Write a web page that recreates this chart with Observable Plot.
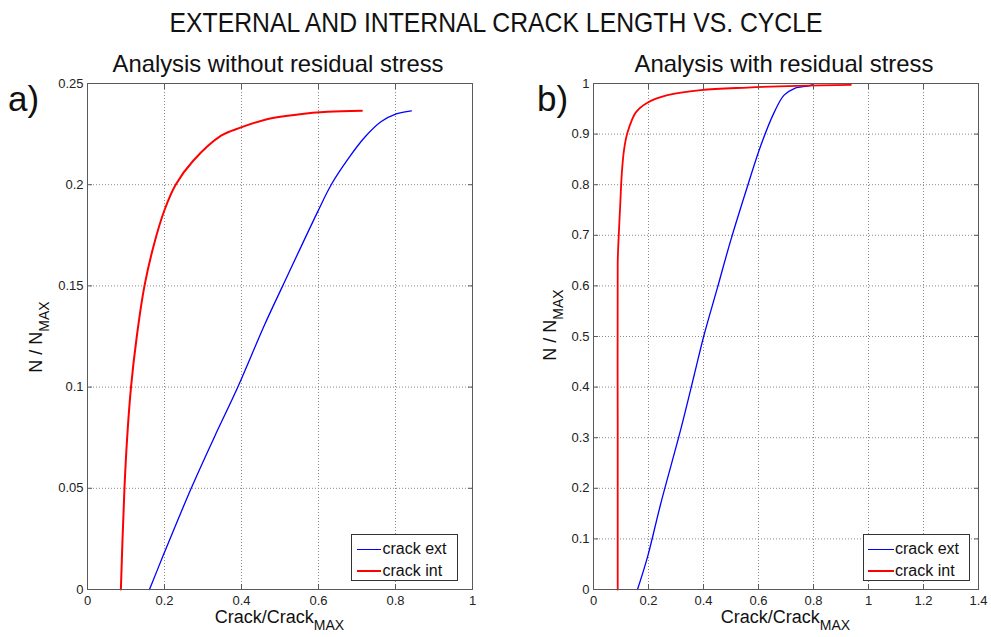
<!DOCTYPE html>
<html><head><meta charset="utf-8">
<script src="https://cdn.jsdelivr.net/npm/d3@7"></script>
<script src="https://cdn.jsdelivr.net/npm/@observablehq/plot@0.6"></script>
<style>
body{margin:0;background:#fff;}
#wrap{position:relative;width:991px;height:637px;overflow:hidden;background:#fff;font-family:"Liberation Sans",Arial,sans-serif;}
.panel{position:absolute;top:0;}
#overlay{position:absolute;left:0;top:0;pointer-events:none;}
.legend{position:absolute;box-sizing:border-box;border:1px solid #333;background:#fff;height:47px;}
.ln{position:absolute;height:1.5px;}
.lt{position:absolute;font-size:16px;line-height:16px;color:#111;white-space:nowrap;}
</style></head>
<body><div id="wrap"></div>
<script>
// ---- data ----
const title = "EXTERNAL AND INTERNAL CRACK LENGTH VS. CYCLE";
const subtitles = ["Analysis without residual stress", "Analysis with residual stress"];
const panelTags = ["a)", "b)"];
const seriesNames = ["crack ext", "crack int"];

// Panel a: without residual stress
const aExtCrack = [0.161, 0.196, 0.2694, 0.33, 0.3905, 0.46, 0.507, 0.598, 0.633, 0.676, 0.7195, 0.763, 0.802, 0.841];
const aExtN     = [0, 0.0165, 0.05, 0.0755, 0.1, 0.1308, 0.15, 0.1867, 0.2, 0.2125, 0.2233, 0.2312, 0.235, 0.2365];
const aIntCrack = [0.0867, 0.091, 0.096, 0.103, 0.113, 0.128, 0.148, 0.172, 0.2, 0.229, 0.274, 0.347, 0.399, 0.4686, 0.5465, 0.624, 0.7127];
const aIntN     = [0, 0.025, 0.05, 0.075, 0.1, 0.125, 0.15, 0.17, 0.1875, 0.2, 0.2117, 0.2242, 0.2283, 0.2325, 0.2347, 0.236, 0.2365];

// Panel b: with residual stress
const bExtCrack = [0.16, 0.196, 0.2447, 0.3175, 0.366, 0.402, 0.451, 0.499, 0.56, 0.608, 0.657, 0.693, 0.73, 0.778, 0.8];
const bExtN     = [0, 0.0634, 0.17, 0.3168, 0.4234, 0.503, 0.597, 0.69, 0.797, 0.877, 0.943, 0.977, 0.99, 0.995, 0.998];
const bIntCrack = [0.088, 0.088, 0.088, 0.0909, 0.0969, 0.103, 0.1113, 0.1236, 0.154, 0.196, 0.269, 0.39, 0.56, 0.742, 0.936];
const bIntN     = [0, 0.323, 0.643, 0.69, 0.757, 0.823, 0.87, 0.903, 0.943, 0.962, 0.977, 0.987, 0.992, 0.9954, 0.9974];

// ticks
const aXTicks = [0, 0.2, 0.4, 0.6, 0.8, 1];
const aXLabels = ["0", "0.2", "0.4", "0.6", "0.8", "1"];
const aYTicks = [0, 0.05, 0.1, 0.15, 0.2, 0.25];
const aYLabels = ["0", "0.05", "0.1", "0.15", "0.2", "0.25"];
const bXTicks = [0, 0.2, 0.4, 0.6, 0.8, 1, 1.2, 1.4];
const bXLabels = ["0", "0.2", "0.4", "0.6", "0.8", "1", "1.2", "1.4"];
const bYTicks = [0, 0.1, 0.2, 0.3, 0.4, 0.5, 0.6, 0.7, 0.8, 0.9, 1];
const bYLabels = ["0", "0.1", "0.2", "0.3", "0.4", "0.5", "0.6", "0.7", "0.8", "0.9", "1"];

const extColor = "#0000ff", intColor = "#ff0000";
const zipPts = (xs, ys) => xs.map((x, i) => ({crack: x, n: ys[i]}));

function panel(o) {
  const xMap = new Map(o.xTicks.map((t, i) => [t, o.xLabels[i]]));
  const yMap = new Map(o.yTicks.map((t, i) => [t, o.yLabels[i]]));
  const gridStyle = {stroke: "#8a8a8a", strokeOpacity: 1, strokeDasharray: "1,2", strokeWidth: 1};
  const axStroke = "#5a5a5a";
  return Plot.plot({
    width: o.width, height: 610,
    marginLeft: o.ml, marginRight: o.mr, marginTop: 83, marginBottom: 21,
    x: {domain: o.xDomain},
    y: {domain: o.yDomain},
    style: {fontFamily: "'Liberation Sans', Arial, sans-serif", fontSize: "13px", color: "#222", background: "transparent", overflow: "visible"},
    marks: [
      Plot.gridX(o.xTicks, gridStyle),
      Plot.gridY(o.yTicks, gridStyle),
      Plot.line(zipPts(o.extX, o.extY), {x: "crack", y: "n", stroke: extColor, strokeWidth: 1.3, curve: "catmull-rom"}),
      Plot.line(zipPts(o.intX, o.intY), {x: "crack", y: "n", stroke: intColor, strokeWidth: o.intWidth, curve: "catmull-rom"}),
      Plot.frame({stroke: axStroke}),
      Plot.axisX(o.xTicks, {anchor: "bottom", tickSize: -5, tickFormat: () => "", label: null, stroke: axStroke}),
      Plot.axisX(o.xTicks, {anchor: "top", tickSize: -5, tickFormat: () => "", label: null, stroke: axStroke}),
      Plot.axisY(o.yTicks, {anchor: "left", tickSize: -5, tickFormat: () => "", label: null, stroke: axStroke}),
      Plot.axisY(o.yTicks, {anchor: "right", tickSize: -5, tickFormat: () => "", label: null, stroke: axStroke}),
      Plot.axisX(o.xTicks, {anchor: "bottom", tickSize: 0, tickPadding: 6, tickFormat: d => xMap.get(d), label: null, fill: "#222", fontSize: 13}),
      Plot.axisY(o.yTicks, {anchor: "left", tickSize: 0, tickPadding: 4, tickFormat: d => yMap.get(d), label: null, fill: "#222", fontSize: 13})
    ]
  });
}

const wrap = document.getElementById("wrap");

const pa = panel({width: 491, ml: 87, mr: 19, xDomain: [0, 1], yDomain: [0, 0.25],
  xTicks: aXTicks, xLabels: aXLabels, yTicks: aYTicks, yLabels: aYLabels,
  extX: aExtCrack, extY: aExtN, intX: aIntCrack, intY: aIntN, intWidth: 2});
const da = document.createElement("div"); da.className = "panel"; da.style.left = "0px"; da.appendChild(pa); wrap.appendChild(da);

const pb = panel({width: 491, ml: 93, mr: 13, xDomain: [0, 1.4], yDomain: [0, 1],
  xTicks: bXTicks, xLabels: bXLabels, yTicks: bYTicks, yLabels: bYLabels,
  extX: bExtCrack, extY: bExtN, intX: bIntCrack, intY: bIntN, intWidth: 1.8});
const db = document.createElement("div"); db.className = "panel"; db.style.left = "500px"; db.appendChild(pb); wrap.appendChild(db);

// ---- text overlay ----
const ns = "http://www.w3.org/2000/svg";
const ov = document.createElementNS(ns, "svg");
ov.setAttribute("id", "overlay"); ov.setAttribute("width", 991); ov.setAttribute("height", 637);
ov.setAttribute("font-family", "'Liberation Sans', Arial, sans-serif");
ov.setAttribute("fill", "#111");
function txt(str, attrs) {
  const t = document.createElementNS(ns, "text");
  for (const k in attrs) t.setAttribute(k, attrs[k]);
  t.textContent = str; ov.appendChild(t); return t;
}
function sub(t, str, size, dy) {
  const s = document.createElementNS(ns, "tspan");
  s.setAttribute("font-size", size); s.setAttribute("dy", dy); s.textContent = str; t.appendChild(s);
}
txt(title, {x: 496, y: 32, "text-anchor": "middle", "font-size": 28, textLength: 653, lengthAdjust: "spacingAndGlyphs"});
txt(subtitles[0], {x: 278, y: 72, "text-anchor": "middle", "font-size": 24, textLength: 331, lengthAdjust: "spacingAndGlyphs"});
txt(subtitles[1], {x: 784, y: 72, "text-anchor": "middle", "font-size": 24, textLength: 299, lengthAdjust: "spacingAndGlyphs"});
txt(panelTags[0], {x: 8, y: 111, "font-size": 35});
txt(panelTags[1], {x: 537, y: 111, "font-size": 35});
[[279.5, 623], [785.5, 623]].forEach(([x, y]) => {
  const t = txt("Crack/Crack", {x, y, "text-anchor": "middle", "font-size": 18});
  sub(t, "MAX", 14, 7);
});
[[41.7, 337], [556, 325]].forEach(([x, y]) => {
  const t = txt("N / N", {transform: `translate(${x},${y}) rotate(-90)`, "text-anchor": "middle", "font-size": 18});
  sub(t, "MAX", 14, 7);
});
wrap.appendChild(ov);

// ---- legends ----
function legend(left, lineLeft, lineW, textLeft) {
  const L = document.createElement("div"); L.className = "legend";
  L.style.left = left + "px"; L.style.top = "534px"; L.style.width = "107px";
  [[extColor, seriesNames[0], 13.5], [intColor, seriesNames[1], 35]].forEach(([c, name, cy]) => {
    const ln = document.createElement("div"); ln.className = "ln";
    ln.style.background = c; ln.style.left = lineLeft + "px"; ln.style.width = lineW + "px"; ln.style.top = cy + "px";
    const lt = document.createElement("div"); lt.className = "lt";
    lt.style.left = textLeft + "px"; lt.style.top = (cy - 7.5) + "px"; lt.textContent = name;
    L.appendChild(ln); L.appendChild(lt);
  });
  wrap.appendChild(L);
}
legend(350.5, 5, 24, 31);
legend(862.5, 4, 26, 31.5);
</script></body></html>
